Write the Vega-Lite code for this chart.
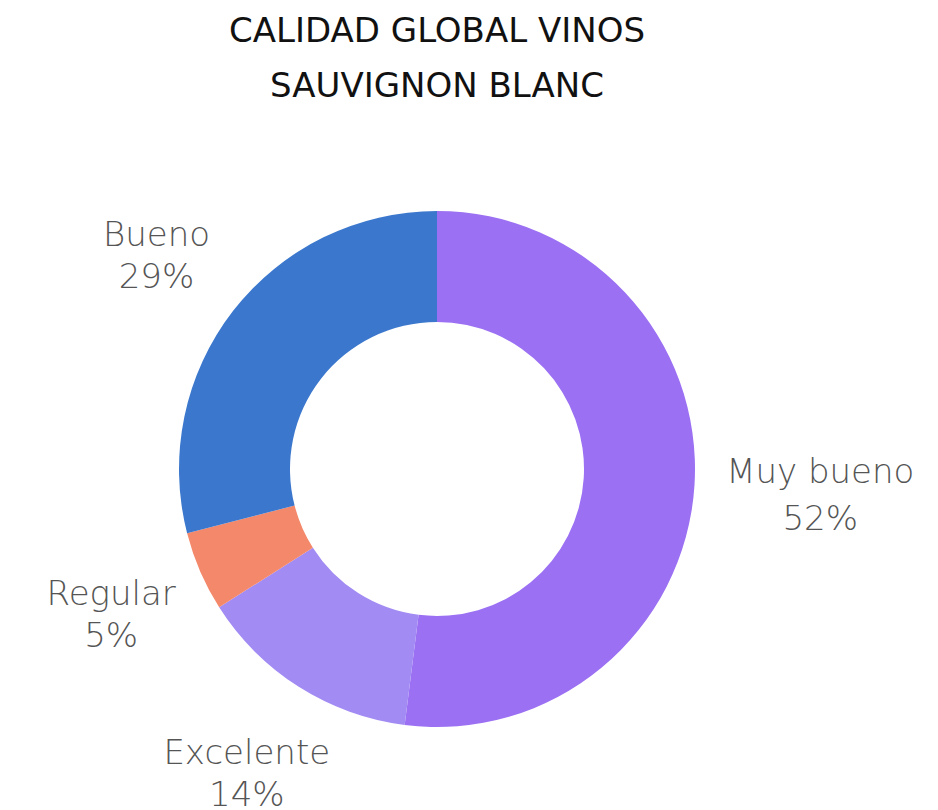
{
  "$schema": "https://vega.github.io/schema/vega-lite/v6.json",
  "width": 874,
  "height": 684,
  "padding": {"left": 0, "top": 15, "right": 64, "bottom": 0},
  "background": "white",
  "view": {"stroke": null},
  "title": {
    "text": ["CALIDAD GLOBAL VINOS", "SAUVIGNON BLANC"],
    "font": "DejaVu Sans",
    "fontSize": 34,
    "fontWeight": 400,
    "color": "#111111",
    "lineHeight": 55,
    "anchor": "middle",
    "offset": 23
  },
  "data": {
    "values": [
      {"cat": "Muy bueno", "pct": 52, "ord": 1},
      {"cat": "Excelente", "pct": 14, "ord": 2},
      {"cat": "Regular", "pct": 5, "ord": 3},
      {"cat": "Bueno", "pct": 29, "ord": 4}
    ]
  },
  "transform": [
    {"stack": "pct", "groupby": [], "sort": [{"field": "ord", "order": "ascending"}], "as": ["t0", "t1"]},
    {"calculate": "(datum.t0 + datum.t1) / 2", "as": "mid"},
    {"calculate": "[datum.cat, datum.pct + '%']", "as": "label"}
  ],
  "layer": [
    {
      "mark": {"type": "arc", "outerRadius": 258, "innerRadius": 147},
      "encoding": {
        "theta": {"field": "t0", "type": "quantitative", "scale": {"domain": [0, 100]}},
        "theta2": {"field": "t1"},
        "color": {
          "field": "cat",
          "type": "nominal",
          "scale": {
            "domain": ["Muy bueno", "Excelente", "Regular", "Bueno"],
            "range": ["#9B70F3", "#A28BF3", "#F4886A", "#3B78CD"]
          },
          "legend": null
        }
      }
    },
    {
      "transform": [{"filter": "datum.cat === 'Muy bueno'"}],
      "mark": {"type": "text", "radius": 384, "dy": -20, "font": "DejaVu Sans", "fontSize": 34, "fontWeight": 300, "color": "#555555", "lineHeight": 47, "align": "center", "baseline": "middle"},
      "encoding": {
        "theta": {"field": "mid", "type": "quantitative"},
        "text": {"field": "label"}
      }
    },
    {
      "transform": [{"filter": "datum.cat !== 'Muy bueno'"}],
      "mark": {"type": "text", "radius": 355, "dy": -15, "font": "DejaVu Sans", "fontSize": 34, "fontWeight": 300, "color": "#555555", "lineHeight": 42, "align": "center", "baseline": "middle"},
      "encoding": {
        "theta": {"field": "mid", "type": "quantitative"},
        "text": {"field": "label"}
      }
    }
  ]
}
